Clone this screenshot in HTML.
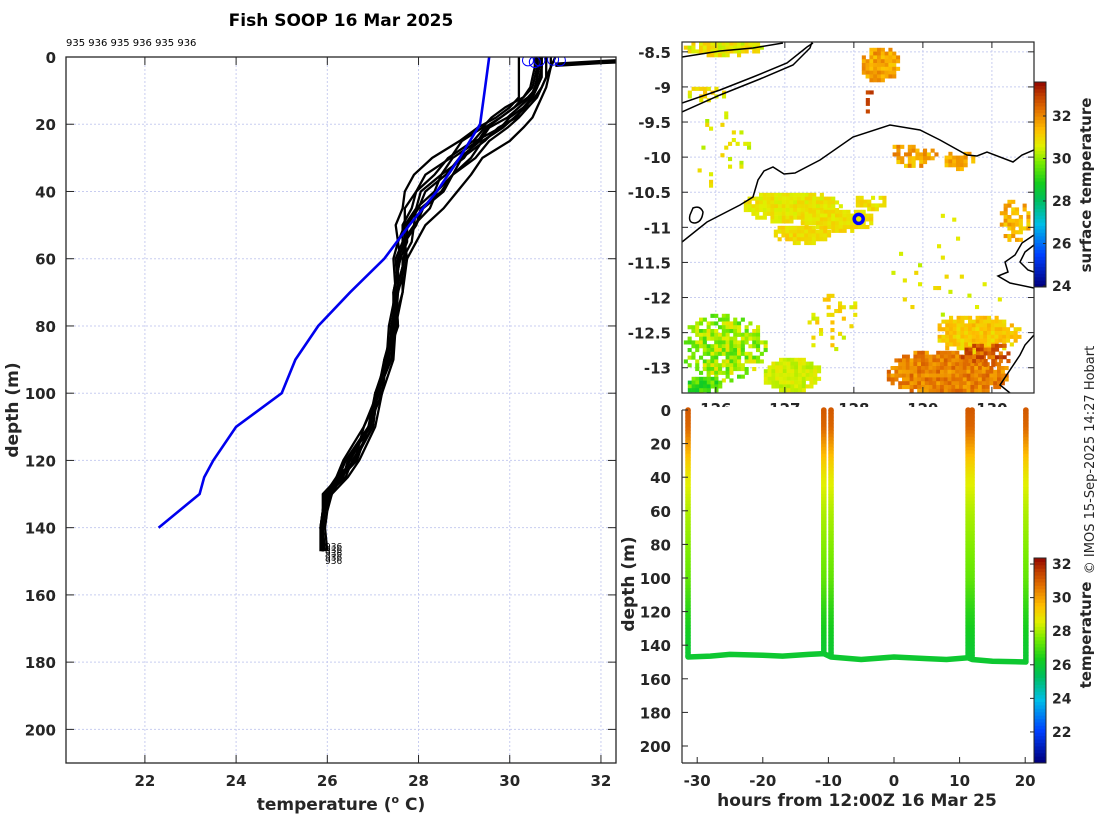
<!DOCTYPE html>
<html><head><meta charset="utf-8"><title>Fish SOOP 16 Mar 2025</title>
<style>
html,body{margin:0;padding:0;background:#fff;}
svg{display:block;font-family:"DejaVu Sans","Liberation Sans",sans-serif;}
.tk{font-weight:bold;font-size:15px;fill:#262626;}
.lab{font-weight:bold;font-size:17px;fill:#262626;}
.cb{font-weight:bold;font-size:14px;fill:#262626;}
</style></head>
<body>
<svg id="fig" width="1100" height="820" viewBox="0 0 1100 820" xmlns="http://www.w3.org/2000/svg">
<rect x="0" y="0" width="1100" height="820" fill="#fff"/>
<text x="341" y="26" text-anchor="middle" font-weight="bold" font-size="17" fill="#000">Fish SOOP 16 Mar 2025</text>
<text x="66" y="46" font-size="10" fill="#000">935 936 935 936 935 936</text>
<g id="left"></g>
<g id="map"></g>
<g id="sect"></g>
<text transform="translate(1094,460) rotate(-90)" text-anchor="middle" font-size="13" fill="#262626">© IMOS 15-Sep-2025 14:27 Hobart</text>
</svg>
<script>
// ---------- data: profile chart ----------
const profDepths=[0,3,6,9,12,15,18,21,25,30,35,40,45,50,55,60,70,80,90,100,110,120,125,130,135,140,147];
const profA=[30.2,30.2,30.2,30.2,30.2,30.0,29.7,29.3,28.9,28.3,27.9,27.7,27.65,27.5,27.55,27.45,27.5,27.35,27.3,27.05,26.9,26.4,26.25,25.95,25.9,25.85,25.85];
const profB=[30.6,30.6,30.55,30.5,30.3,29.9,29.6,29.4,28.95,28.7,28.15,27.95,27.7,27.7,27.55,27.6,27.45,27.5,27.25,27.15,26.8,26.6,26.2,26.05,25.9,25.85,25.9];
const profC=[30.7,30.7,30.7,30.6,30.4,30.1,29.8,29.5,29.3,28.75,28.5,28.05,27.95,27.7,27.7,27.55,27.55,27.4,27.35,27.05,26.95,26.45,26.35,25.95,25.9,25.9,25.9];
const profD=[30.65,30.65,30.6,30.6,30.5,30.3,30.0,29.8,29.25,29.0,28.5,28.35,27.95,27.9,27.65,27.7,27.5,27.55,27.3,27.2,26.9,26.65,26.3,26.1,25.95,25.9,25.9];
const profE=[30.8,30.8,30.8,30.7,30.6,30.4,30.2,29.95,29.55,29.25,28.75,28.5,28.05,27.95,27.7,27.75,27.55,27.5,27.4,27.1,27.0,26.55,26.4,26.0,25.95,25.9,25.95];
const profF=[31.0,30.9,30.85,30.8,30.7,30.6,30.5,30.3,30.0,29.4,29.15,28.85,28.55,28.15,27.95,27.75,27.65,27.5,27.45,27.2,27.05,26.7,26.45,26.1,26.0,25.95,26.0];
const profG=[30.6,30.6,30.6,30.55,30.45,30.2,29.95,29.55,29.35,28.9,28.6,28.15,28.0,27.75,27.75,27.6,27.45,27.45,27.25,27.1,26.8,26.35,26.2,25.95,25.9,25.9,25.9];
const profH=[30.9,30.9,30.8,30.7,30.55,30.3,30.15,29.75,29.45,28.95,28.75,28.4,28.25,27.9,27.85,27.65,27.65,27.45,27.4,27.1,27.0,26.6,26.25,26.05,25.95,25.9,25.9];
const profI=[30.7,30.7,30.65,30.6,30.5,30.35,30.1,29.85,29.4,29.15,28.75,28.55,28.1,27.95,27.7,27.7,27.5,27.55,27.3,27.2,26.9,26.5,26.3,26.0,25.9,25.9,25.9];
const profJ=[30.55,30.55,30.5,30.45,30.3,30.1,29.8,29.45,29.2,28.65,28.35,27.95,27.85,27.65,27.65,27.5,27.55,27.4,27.35,27.05,26.95,26.4,26.25,25.9,25.9,25.85,25.9];
const surfTemps=[31.0,32.0,32.5];
const surfDepthsA=[2.0,1.2,0.9];
const surfDepthsB=[2.6,1.8,1.5];
const climDepths=[0,10,20,30,40,50,60,70,80,90,100,110,120,125,130,140];
const climTemps=[29.55,29.45,29.35,28.9,28.4,27.8,27.25,26.5,25.8,25.3,25.0,24.0,23.5,23.3,23.2,22.3];
const dropTemps=[30.4,30.55,30.65,30.95,31.1];
const dropDepths=[1.0,1.5,1.0,0.8,1.0];
const tempTicks=[22,24,26,28,30,32];
const depthTicks=[0,20,40,60,80,100,120,140,160,180,200];
// ---------- data: section chart ----------
const castHours=[-31.4,-10.7,-9.6,11.3,11.9,20.1];
const castBottoms=[147,145,147,147.5,148.5,150];
const bottomHours=[-31.4,-28,-25,-20,-17,-13,-10.7,-9.6,-5,0,5,8,11.3,11.9,15,20.1];
const bottomDepths=[147,146.5,145.5,146,146.5,145.5,145,147,148.5,147,148,148.5,147.5,148.5,149.5,150];
const colorDepths=[0,10,20,30,40,60,80,100,120,140,150];
const colorTemps=[31.0,30.8,30.0,29.2,28.6,28.0,27.6,27.2,26.5,26.0,25.9];
const hourTicks=[-30,-20,-10,0,10,20];
const sectDepthTicks=[0,20,40,60,80,100,120,140,160,180,200];
const sstCbTicks=[24,26,28,30,32];
const secCbTicks=[22,24,26,28,30,32];
const latTicks=[-8.5,-9,-9.5,-10,-10.5,-11,-11.5,-12,-12.5,-13];
const lonTicks=[126,127,128,129,130];
const shipLon=128.07, shipLat=-10.88;

const NS='http://www.w3.org/2000/svg';
function mk(tag,attrs,parent){const e=document.createElementNS(NS,tag);for(const k in attrs)e.setAttribute(k,attrs[k]);parent.appendChild(e);return e;}
function cmap(t){
  const st=[[0,[0,0,127]],[0.15,[0,64,255]],[0.3,[0,190,230]],[0.42,[0,190,90]],[0.5,[20,205,30]],[0.6,[120,235,0]],[0.68,[225,240,0]],[0.76,[255,190,0]],[0.86,[225,110,0]],[0.93,[190,60,0]],[1,[140,0,0]]];
  t=Math.max(0,Math.min(1,t));
  for(let i=1;i<st.length;i++){if(t<=st[i][0]){const a=st[i-1],b=st[i],f=(t-a[0])/(b[0]-a[0]);return 'rgb('+a[1].map((v,j)=>Math.round(v+(b[1][j]-v)*f)).join(',')+')';}}
  return 'rgb(140,0,0)';
}
function interp(xs,ys,x){if(x<=xs[0])return ys[0];for(let i=1;i<xs.length;i++){if(x<=xs[i]){const f=(x-xs[i-1])/(xs[i]-xs[i-1]);return ys[i-1]+(ys[i]-ys[i-1])*f;}}return ys[ys.length-1];}

// ================= LEFT PROFILE CHART =================
(function(){
  const g=document.getElementById('left');
  const L=66,R=616,T=57,B=763, tmin=20.27,tmax=32.33, dmin=0,dmax=210;
  const X=t=>L+(t-tmin)/(tmax-tmin)*(R-L);
  const Y=d=>T+(d-dmin)/(dmax-dmin)*(B-T);
  const cp=mk('clipPath',{id:'lclip'},g);mk('rect',{x:L,y:T,width:R-L,height:B-T},cp);
  tempTicks.forEach(t=>{const l=mk('line',{x1:X(t),x2:X(t),y1:T,y2:B,stroke:'#c8cdf0','stroke-width':1,'stroke-dasharray':'2,2'},g);});
  depthTicks.forEach(d=>{const l=mk('line',{x1:L,x2:R,y1:Y(d),y2:Y(d),stroke:'#c8cdf0','stroke-width':1,'stroke-dasharray':'2,2'},g);});
  const pg=mk('g',{'clip-path':'url(#lclip)'},g);
  const profs=[profA,profB,profC,profD,profE,profF,profG,profH,profI,profJ];
  profs.forEach(p=>{
    const d=p.map((t,i)=>(i?'L':'M')+X(t).toFixed(1)+','+Y(profDepths[i]).toFixed(1)).join('');
    const e=mk('path',{d:d,fill:'none',stroke:'#000','stroke-width':2.3,'stroke-linejoin':'round'},pg);
    
    
  });
  [surfDepthsA,surfDepthsB].forEach(sd=>{
    const d=surfTemps.map((t,i)=>(i?'L':'M')+X(t)+','+Y(sd[i])).join('');
    const e=mk('path',{d:d,fill:'none',stroke:'#000','stroke-width':2.4},pg);
    
    
  });
  const cl=climTemps.map((t,i)=>(i?'L':'M')+X(t).toFixed(1)+','+Y(climDepths[i]).toFixed(1)).join('');
  const ce=mk('path',{d:cl,fill:'none',stroke:'#0000ee','stroke-width':2.6},pg);
  
  
  dropTemps.forEach((t,i)=>{
    const c=mk('circle',{cx:X(t),cy:Y(dropDepths[i]),r:5.5,fill:'none',stroke:'#0000ff','stroke-width':1},pg);
    
    
  });
  for(let i=0;i<5;i++){
    const tx=mk('text',{x:X(25.95),y:Y(146.5)+i*3.6,'font-size':9,fill:'#000'},g);tx.textContent='936';
    
    
  }
  mk('rect',{x:L,y:T,width:R-L,height:B-T,fill:'none',stroke:'#262626','stroke-width':1.3},g);
  tempTicks.forEach(t=>{
    mk('line',{x1:X(t),x2:X(t),y1:B,y2:B-8,stroke:'#262626'},g);
    mk('line',{x1:X(t),x2:X(t),y1:T,y2:T+8,stroke:'#262626'},g);
    const tx=mk('text',{x:X(t),y:B+23,'text-anchor':'middle',class:'tk'},g);tx.textContent=t;
    
    
  });
  depthTicks.forEach(d=>{
    mk('line',{x1:L,x2:L+8,y1:Y(d),y2:Y(d),stroke:'#262626'},g);
    mk('line',{x1:R,x2:R-8,y1:Y(d),y2:Y(d),stroke:'#262626'},g);
    const tx=mk('text',{x:L-10,y:Y(d)+6,'text-anchor':'end',class:'tk'},g);tx.textContent=d;
    
    
  });
  const xl=mk('text',{x:341,y:810,'text-anchor':'middle',class:'lab'},g);
  xl.innerHTML='temperature (<tspan dy="-7" font-size="11">o</tspan><tspan dy="7"> C)</tspan>';
  
  
  const yl=mk('text',{transform:'translate(18,410) rotate(-90)','text-anchor':'middle',class:'lab'},g);yl.textContent='depth (m)';
  
  
})();

// ================= MAP =================
(function(){
  const g=document.getElementById('map');
  const L=682,R=1034,T=42,B=393, lon0=125.51,lon1=130.61,lat0=-8.36,lat1=-13.36;
  const X=v=>L+(v-lon0)/(lon1-lon0)*(R-L);
  const Y=v=>T+(v-lat0)/(lat1-lat0)*(B-T);
  const cp=mk('clipPath',{id:'mclip'},g);mk('rect',{x:L,y:T,width:R-L,height:B-T},cp);
  lonTicks.forEach(v=>mk('line',{x1:X(v),x2:X(v),y1:T,y2:B,stroke:'#c8cdf0','stroke-dasharray':'2,2'},g));
  latTicks.forEach(v=>mk('line',{x1:L,x2:R,y1:Y(v),y2:Y(v),stroke:'#c8cdf0','stroke-dasharray':'2,2'},g));
  const pg=mk('g',{'clip-path':'url(#mclip)'},g);
  
  
  // satellite pixel patches (image texture): [cx,cy,rx,ry,baseTemp,spread,density]
  const patches=[[722,46,42,8,30.7,0.5,1.0],[878,62,20,18,31.6,0.5,1.0],[866,95,4,16,32.9,0.2,0.45],[704,92,20,9,30.8,0.5,0.5],
  [790,205,50,16,30.7,0.3,1.1],[835,218,38,12,30.8,0.3,1.0],[800,232,30,10,30.9,0.3,1.0],[870,200,18,8,30.8,0.3,0.8],[910,153,25,12,31.6,0.6,0.8],[955,158,18,10,31.5,0.4,0.8],
  [1012,218,16,22,31.4,0.5,0.7],[722,345,42,35,30.0,0.8,0.8],[790,372,30,18,30.4,0.3,1.1],[702,383,18,10,29.2,0.8,1.0],
  [945,372,62,25,32.0,0.5,1.15],[975,332,45,20,31.1,0.4,1.0],[985,352,28,12,32.5,0.6,0.7],[830,320,30,30,30.8,0.5,0.2],[720,150,30,50,30.5,0.5,0.08],[950,270,70,60,30.5,0.5,0.03]];
  let s=12345;const rnd=()=>{s=(s*16807)%2147483647;return s/2147483647;};
  const px=3.8;
  patches.forEach(p=>{
    const [cx,cy,rx,ry,bt,sp,den]=p;
    for(let x=cx-rx;x<cx+rx;x+=px)for(let y=cy-ry;y<cy+ry;y+=px){
      const dx=(x-cx)/rx,dy=(y-cy)/ry,r=dx*dx+dy*dy;
      if(r>1)continue;
      if(rnd()>den*(1.2-0.6*r))continue;
      const t=bt+(rnd()-0.5)*2*sp;
      mk('rect',{x:x.toFixed(1),y:y.toFixed(1),width:px+0.3,height:px+0.3,fill:cmap((t-23.95)/(33.6-23.95))},pg);
    }
  });
  // coastlines
  const coast=[
   'M682,57 L720,51 L753,48 L783,43',
   'M682,103 L720,90 L753,77 L787,63 L807,47 L813,43',
   'M682,112 L720,95 L760,79 L793,65 L810,48 L812,42',
   'M682,242 L707,222 L740,205 L753,197 L758,180 L764,171 L773,167 L784,174 L795,173 L820,160 L853,137 L890,125 L920,130 L940,140 L967,155 L977,156 L987,152 L1013,162 L1022,155 L1034,150',
   'M693,208 Q700,205 703,212 Q702,222 695,223 Q688,223 690,215 Z',
   'M1034,235 L1022,243 L1015,255 L1005,262 L1008,272 L998,276 L1010,283 L1034,288',
   'M1034,245 L1025,252 L1020,262 L1028,270 L1034,272',
   'M1034,335 L1025,345 L1020,355 L1010,370 L1000,385 L1010,393'];
  coast.forEach(d=>{const e=mk('path',{d:d,fill:'none',stroke:'#000','stroke-width':1.5},pg);});
  const sh=mk('circle',{cx:X(shipLon),cy:Y(shipLat),r:4.5,fill:'none',stroke:'#0000ff','stroke-width':3.5},pg);
  
  
  mk('rect',{x:L,y:T,width:R-L,height:B-T,fill:'none',stroke:'#262626','stroke-width':1.2},g);
  latTicks.forEach(v=>{
    mk('line',{x1:L,x2:L+6,y1:Y(v),y2:Y(v),stroke:'#262626'},g);mk('line',{x1:R,x2:R-6,y1:Y(v),y2:Y(v),stroke:'#262626'},g);
    const tx=mk('text',{x:L-11,y:Y(v)+6,'text-anchor':'end',class:'tk'},g);tx.textContent=v;
    
    
  });
  lonTicks.forEach(v=>{
    mk('line',{x1:X(v),x2:X(v),y1:T,y2:T+6,stroke:'#262626'},g);mk('line',{x1:X(v),x2:X(v),y1:B,y2:B-6,stroke:'#262626'},g);
    const tx=mk('text',{x:X(v),y:B+21,'text-anchor':'middle',class:'tk'},g);tx.textContent=v;
    
    
  });
  // colorbar
  const cx0=1034,cw=12,ct=82,cbt=287,v0=23.95,v1=33.6;
  const CY=v=>cbt-(v-v0)/(v1-v0)*(cbt-ct);
  for(let i=0;i<60;i++){const a=v0+(v1-v0)*i/60,b=v0+(v1-v0)*(i+1)/60;mk('rect',{x:cx0,y:CY(b),width:cw,height:CY(a)-CY(b)+0.5,fill:cmap((a-v0)/(v1-v0))},g);}
  const cbo=mk('rect',{x:cx0,y:ct,width:cw,height:cbt-ct,fill:'none',stroke:'#262626'},g);
  
  
  sstCbTicks.forEach(v=>{mk('line',{x1:cx0+cw,x2:cx0+cw-3,y1:CY(v),y2:CY(v),stroke:'#262626'},g);
    const tx=mk('text',{x:1052,y:CY(v)+5,class:'cb'},g);tx.textContent=v;
    
    });
  const tl=mk('text',{transform:'translate(1091,185) rotate(-90)','text-anchor':'middle',class:'cb',style:'font-size:15px'},g);tl.textContent='surface temperature';
  
  
})();

// ================= SECTION CHART =================
(function(){
  const g=document.getElementById('sect');
  const L=682,R=1034,T=410,B=763;
  const X=h=>894+h*6.56;
  const Y=d=>T+d*(336/200);
  mk('rect',{x:L+1,y:407,width:R-L-1,height:B-407,fill:'#fff'},g);
  const tmin=20.15,tmax=32.36;
  const tc=d=>cmap((interp(colorDepths,colorTemps,d)-tmin)/(tmax-tmin));
  castHours.forEach((h,i)=>{
    const grp=mk('g',{},g);
    
    
    for(let d=0;d<castBottoms[i];d+=2){
      mk('line',{x1:X(h),x2:X(h),y1:Y(d),y2:Y(Math.min(d+2.4,castBottoms[i])),stroke:tc(d+1),'stroke-width':5.5},grp);
    }
    mk('circle',{cx:X(h),cy:Y(0),r:2.8,fill:tc(0)},grp);
  });
  const bd=bottomHours.map((h,i)=>(i?'L':'M')+X(h).toFixed(1)+','+Y(bottomDepths[i]).toFixed(1)).join('');
  const be=mk('path',{d:bd,fill:'none',stroke:tc(146),'stroke-width':5.5,'stroke-linejoin':'round','stroke-linecap':'round'},g);
  
  
  mk('line',{x1:L,x2:L,y1:T,y2:B,stroke:'#262626','stroke-width':1.2},g);
  mk('line',{x1:L,x2:R,y1:B,y2:B,stroke:'#262626','stroke-width':1.2},g);
  hourTicks.forEach(h=>{mk('line',{x1:X(h),x2:X(h),y1:B,y2:B-6,stroke:'#262626'},g);
    const tx=mk('text',{x:X(h),y:B+23,'text-anchor':'middle',class:'tk'},g);tx.textContent=h;
    
    });
  sectDepthTicks.forEach(d=>{mk('line',{x1:L,x2:L+6,y1:Y(d),y2:Y(d),stroke:'#262626'},g);
    const tx=mk('text',{x:L-11,y:Y(d)+6,'text-anchor':'end',class:'tk'},g);tx.textContent=d;
    
    });
  const xl=mk('text',{x:857,y:806,'text-anchor':'middle',class:'lab'},g);xl.textContent='hours from 12:00Z 16 Mar 25';
  
  
  const yl=mk('text',{transform:'translate(634,584) rotate(-90)','text-anchor':'middle',class:'lab'},g);yl.textContent='depth (m)';
  
  
  const cx0=1034,cw=12,ct=558,cbt=763;
  const CY=v=>cbt-(v-tmin)/(tmax-tmin)*(cbt-ct);
  for(let i=0;i<60;i++){const a=tmin+(tmax-tmin)*i/60,b=tmin+(tmax-tmin)*(i+1)/60;mk('rect',{x:cx0,y:CY(b),width:cw,height:CY(a)-CY(b)+0.5,fill:cmap((a-tmin)/(tmax-tmin))},g);}
  const cbo=mk('rect',{x:cx0,y:ct,width:cw,height:cbt-ct,fill:'none',stroke:'#262626'},g);
  
  
  secCbTicks.forEach(v=>{mk('line',{x1:cx0,x2:cx0-4,y1:CY(v),y2:CY(v),stroke:'#262626'},g);
    const tx=mk('text',{x:1052,y:CY(v)+5,class:'cb'},g);tx.textContent=v;
    
    });
  const tl=mk('text',{transform:'translate(1091,635) rotate(-90)','text-anchor':'middle',class:'cb',style:'font-size:15px'},g);tl.textContent='temperature';
  
  
})();
</script>
</body></html>
